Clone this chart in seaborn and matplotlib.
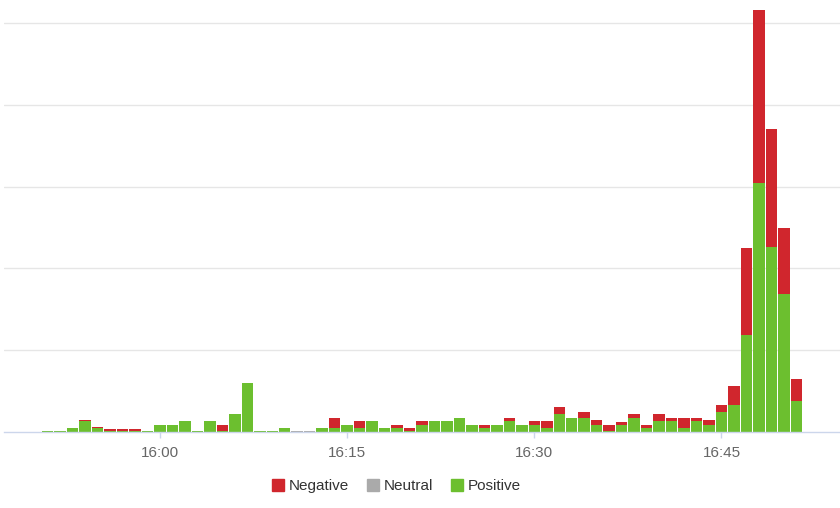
import matplotlib
matplotlib.use("Agg")
import matplotlib.pyplot as plt
from matplotlib.lines import Line2D
import seaborn as sns
import pandas as pd

# minutes relative to 16:00
minutes = list(range(-9, 52))
positive = [1, 1, 3, 8, 3, 1, 1, 1, 1,
            5, 5, 8, 1, 8, 1, 13, 36, 1, 1,
            3, 0, 0, 3, 3, 5, 3, 8, 3, 3, 1, 5, 8, 8, 10, 5, 3, 5, 8, 5,
            5, 3, 13, 10, 10, 5, 1, 5, 10, 3, 8, 8, 3, 8, 5,
            15, 20, 71, 183, 136, 101, 23]
negative = [0, 0, 0, 1, 1, 1, 1, 1, 0,
            0, 0, 0, 0, 0, 4, 0, 0, 0, 0,
            0, 0, 0, 0, 7, 0, 5, 0, 0, 2, 2, 3, 0, 0, 0, 0, 2, 0, 2, 0,
            3, 5, 5, 0, 5, 4, 4, 2, 3, 2, 5, 2, 7, 2, 4,
            5, 14, 64, 127, 86, 49, 16]
neutral = [0] * len(minutes)
neutral[minutes.index(11)] = 1
neutral[minutes.index(12)] = 1

tick_minutes = [0, 15, 30, 45]
tick_labels = ["16:00", "16:15", "16:30", "16:45"]
series_names = ["Negative", "Neutral", "Positive"]
colors = {"Negative": "#d0262d", "Neutral": "#aaaaaa", "Positive": "#6cbf2f"}

rows = []
for m, n, u, p in zip(minutes, negative, neutral, positive):
    rows.append({"minute": m, "sentiment": "Negative", "count": n})
    rows.append({"minute": m, "sentiment": "Neutral", "count": u})
    rows.append({"minute": m, "sentiment": "Positive", "count": p})
df = pd.DataFrame(rows)

sns.set_theme(style="white")
plt.rcParams["font.family"] = ["Liberation Sans", "DejaVu Sans"]

fig = plt.figure(figsize=(8.4, 5.08), dpi=100)
ax = fig.add_axes([4 / 840, 76 / 508, 836 / 840, 432 / 508])

sns.histplot(data=df, x="minute", weights="count", hue="sentiment",
             hue_order=series_names, palette=colors, multiple="stack",
             discrete=True, shrink=0.92, linewidth=0,
             alpha=1.0, legend=False, ax=ax)

ax.set_xlim(-12.5, 54.5)
ax.set_ylim(0, 317)
ax.set_yticks([60, 120, 180, 240, 300])
ax.yaxis.grid(True, color="#e6e6e6", linewidth=1)
ax.set_axisbelow(True)
ax.tick_params(axis="y", left=False, labelleft=False)
ax.set_xticks(tick_minutes)
ax.set_xticklabels(tick_labels)
ax.tick_params(axis="x", bottom=True, length=4, width=1, color="#ccd6eb",
               pad=6, labelsize=11, labelcolor="#666666")
ax.set_xlabel("")
ax.set_ylabel("")
for s in ["top", "left", "right"]:
    ax.spines[s].set_visible(False)
ax.spines["bottom"].set_color("#ccd6eb")
ax.spines["bottom"].set_linewidth(1)

handles = [Line2D([0], [0], marker="s", linestyle="none", markersize=9,
                  markerfacecolor=colors[n], markeredgecolor=colors[n])
           for n in series_names]
fig.legend(handles, series_names, loc="center", bbox_to_anchor=(0.472, 0.043),
           ncol=3, frameon=False, fontsize=11, handlelength=0.8,
           handletextpad=0.3, columnspacing=1.15, labelcolor="#333333")

fig.savefig("out.png", dpi=100)
